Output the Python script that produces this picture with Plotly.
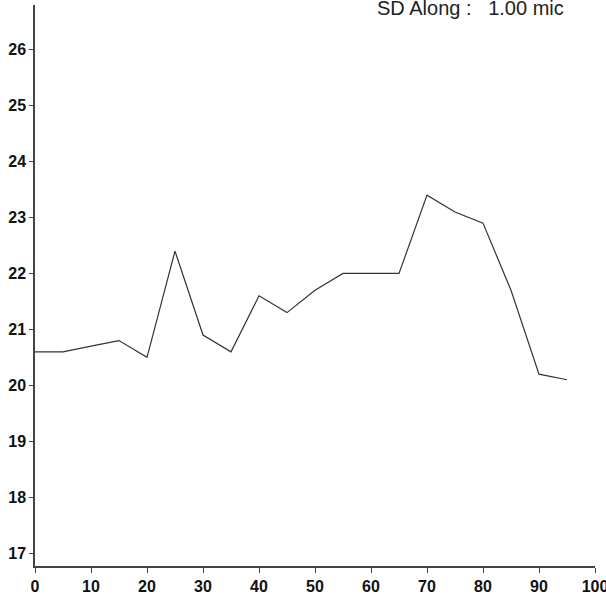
import plotly.graph_objects as go

positions = [0, 5, 10, 15, 20, 25, 30, 35, 40, 45, 50, 55, 60, 65, 70, 75, 80, 85, 90, 95]
values = [20.6, 20.6, 20.7, 20.8, 20.5, 22.4, 20.9, 20.6, 21.6, 21.3, 21.7, 22.0, 22.0, 22.0, 23.4, 23.1, 22.9, 21.7, 20.2, 20.1]
x_ticks = [0, 10, 20, 30, 40, 50, 60, 70, 80, 90, 100]
y_ticks = [17, 18, 19, 20, 21, 22, 23, 24, 25, 26]
label_text = "SD Along :&nbsp;&nbsp;&nbsp;1.00 mic"

tick_font = dict(family="Liberation Sans, Arial, sans-serif", size=16, color="#111111", weight="bold")

fig = go.Figure()
fig.add_trace(go.Scatter(x=positions, y=values, mode="lines",
                         line=dict(color="#333333", width=1.2), showlegend=False,
                         hoverinfo="skip"))

fig.update_layout(
    width=606, height=598,
    margin=dict(l=35, r=11, t=5, b=32, autoexpand=False),
    paper_bgcolor="white", plot_bgcolor="white",
    font=dict(family="Liberation Sans, Arial, sans-serif", size=15, color="#111111"),
    xaxis=dict(range=[0, 100], tickvals=x_ticks, ticktext=[str(v) for v in x_ticks],
               tickfont=tick_font, ticklabeloverflow="allow", automargin=False,
               showgrid=False, zeroline=False, showline=True, linecolor="#444444",
               linewidth=1.5, ticks="outside", ticklen=5, tickcolor="#444444",
               tickwidth=1, fixedrange=True),
    yaxis=dict(range=[16.77, 26.8], tickvals=y_ticks, ticktext=[str(v) for v in y_ticks],
               tickfont=tick_font, ticklabeloverflow="allow", ticklabelstandoff=0,
               automargin=False,
               showgrid=False, zeroline=False, showline=True, linecolor="#444444",
               linewidth=1.5, ticks="outside", ticklen=4, tickcolor="#444444",
               tickwidth=1, fixedrange=True),
    annotations=[dict(text=label_text, xref="paper", yref="paper", x=0.777, y=0.9938,
                      xanchor="center", yanchor="middle", showarrow=False,
                      font=dict(size=20, color="#222222"))],
)

fig.write_html("out.html", config={"displayModeBar": False},
               post_script="document.body.style.margin='0';document.body.style.overflow='hidden';")
